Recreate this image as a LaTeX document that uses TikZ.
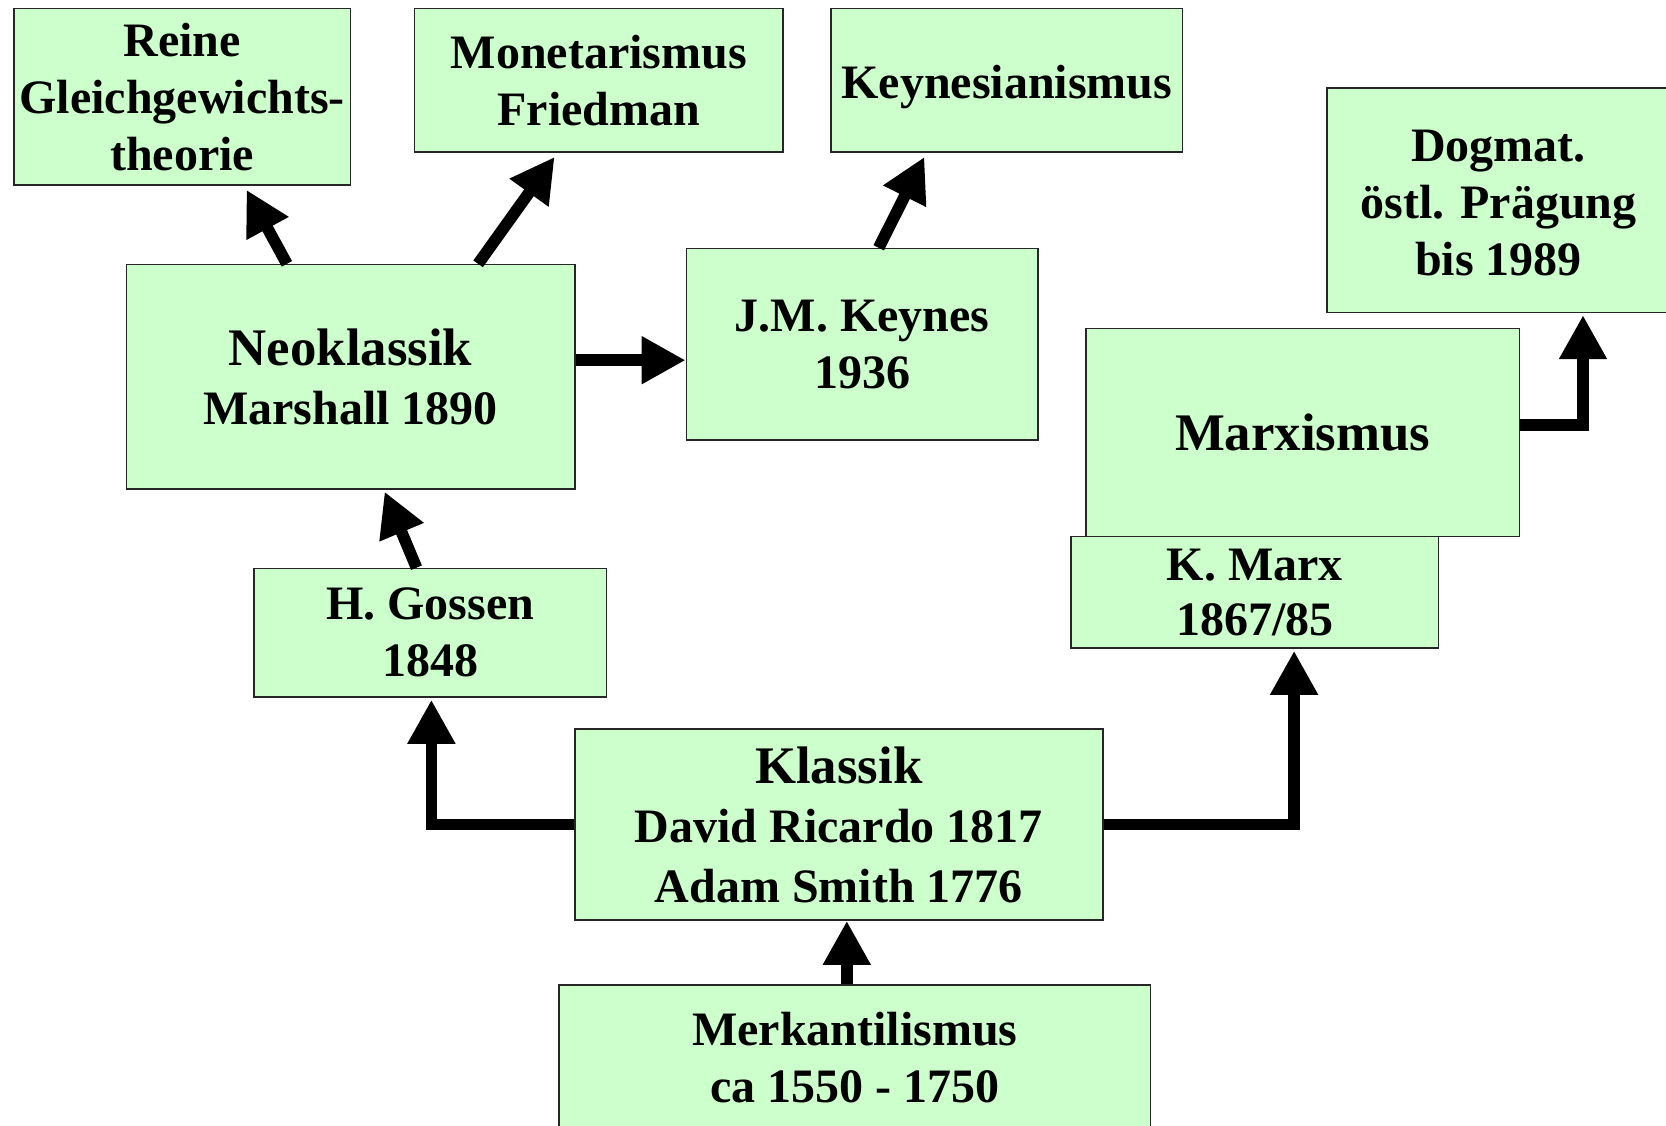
\documentclass[tikz,border=0pt]{standalone}
\usepackage{fontspec}
\setmainfont{Liberation Serif}
\usetikzlibrary{arrows.meta,calc}
\definecolor{boxgreen}{HTML}{CCFFCC}
\begin{document}
\begin{tikzpicture}[x=0.5pt,y=-0.5pt,
  box/.style={draw=black!85, line width=0.75pt, fill=boxgreen, inner sep=0pt, align=center,
              font=\bfseries\fontsize{24}{28.5}\selectfont},
  wide/.style={font=\bfseries\fontsize{24}{29.75}\selectfont},
  arr/.style={line width=5.85pt, -{Triangle[width=22.5pt,length=22pt]}, line join=miter}]
\useasboundingbox (0,0) rectangle (1666,1125);
\clip (0,0) rectangle (1666,1125);

% boxes
\node[box, minimum width=168.4pt, minimum height=88.2pt] (reine) at (182.2,96.7)
  {Reine\\Gleichgewichts-\\theorie};
\node[box, minimum width=184.35pt, minimum height=71.7pt] (monet) at (598.7,80.2)
  {Monetarismus\\Friedman};
\node[box, minimum width=175.85pt, minimum height=71.7pt] (keyn) at (1006.7,80.2)
  {\raisebox{-3.2pt}[\height][\depth]{Keynesianismus}};
\node[box, minimum width=171.5pt, minimum height=112.1pt] (dogmat) at (1498.5,200.3)
  {\raisebox{-1.5pt}[\height][\depth]{Dogmat.}\\\raisebox{-1.5pt}[\height][\depth]{östl. Prägung}\\\raisebox{-1.5pt}[\height][\depth]{bis 1989}};
\node[box, wide, minimum width=224.2pt, minimum height=112.1pt] (neo) at (350.6,376.7)
  {{\fontsize{26.4}{29.75}\selectfont Neoklassik}\\Marshall 1890};
\node[box, minimum width=175.85pt, minimum height=95.65pt] (keynes) at (862.2,344.2)
  {J.M. Keynes\\1936};
\node[box, minimum width=216.75pt, minimum height=104.15pt] (marx) at (1302.6,432.4)
  {{\fontsize{26.4}{29.75}\selectfont Marxismus}};
\node[box, minimum width=183.8pt, minimum height=55.75pt, font=\bfseries\fontsize{24}{27.6}\selectfont] (kmarx) at (1254.8,592.3)
  {K. Marx\\1867/85};
\node[box, minimum width=176.4pt, minimum height=64.3pt] (gossen) at (430.3,632.7)
  {H. Gossen\\1848};
\node[box, wide, minimum width=264.05pt, minimum height=95.6pt] (klassik) at (838.8,824.5)
  {{\fontsize{26.4}{29.75}\selectfont Klassik}\\David Ricardo 1817\\Adam Smith 1776};
\node[box, minimum width=295.9pt, minimum height=72.5pt] (merk) at (854.8,1057.5)
  {Merkantilismus\\ca 1550 - 1750};

% connectors
\draw[arr] ($(neo.north)+(-63.7,0)$) -- ($(reine.south)+(64.3,4.2)$);
\draw[arr] ($(neo.north)+(127.5,0)$) -- ($(monet.south)+(-44.1,4.3)$);
\draw[arr] ($(keynes.north)+(16.5,0)$) -- ($(keyn.south)+(-82.3,4.3)$);
\coordinate (nk) at ($(neo.east)+(0,-16.5)$);
\draw[arr] (nk) -- (nk -| keynes.west);
\draw[arr] ($(gossen.north)+(-13.8,0)$) -- ($(neo.south)+(34,2.1)$);
\draw[arr] (klassik.west) -| ($(gossen.south)+(1.1,2)$);
\draw[arr] (klassik.east) -| ($(kmarx.south)+(39.3,2)$);
\coordinate (mk) at ($(klassik.south)+(8,0)$);
\draw[arr] (merk.north -| mk) -- (mk);
\coordinate (md) at ($(marx.east)+(0,-7.4)$);
\draw[arr] (md) -| ($(dogmat.south)+(84.5,2)$);
\end{tikzpicture}
\end{document}
